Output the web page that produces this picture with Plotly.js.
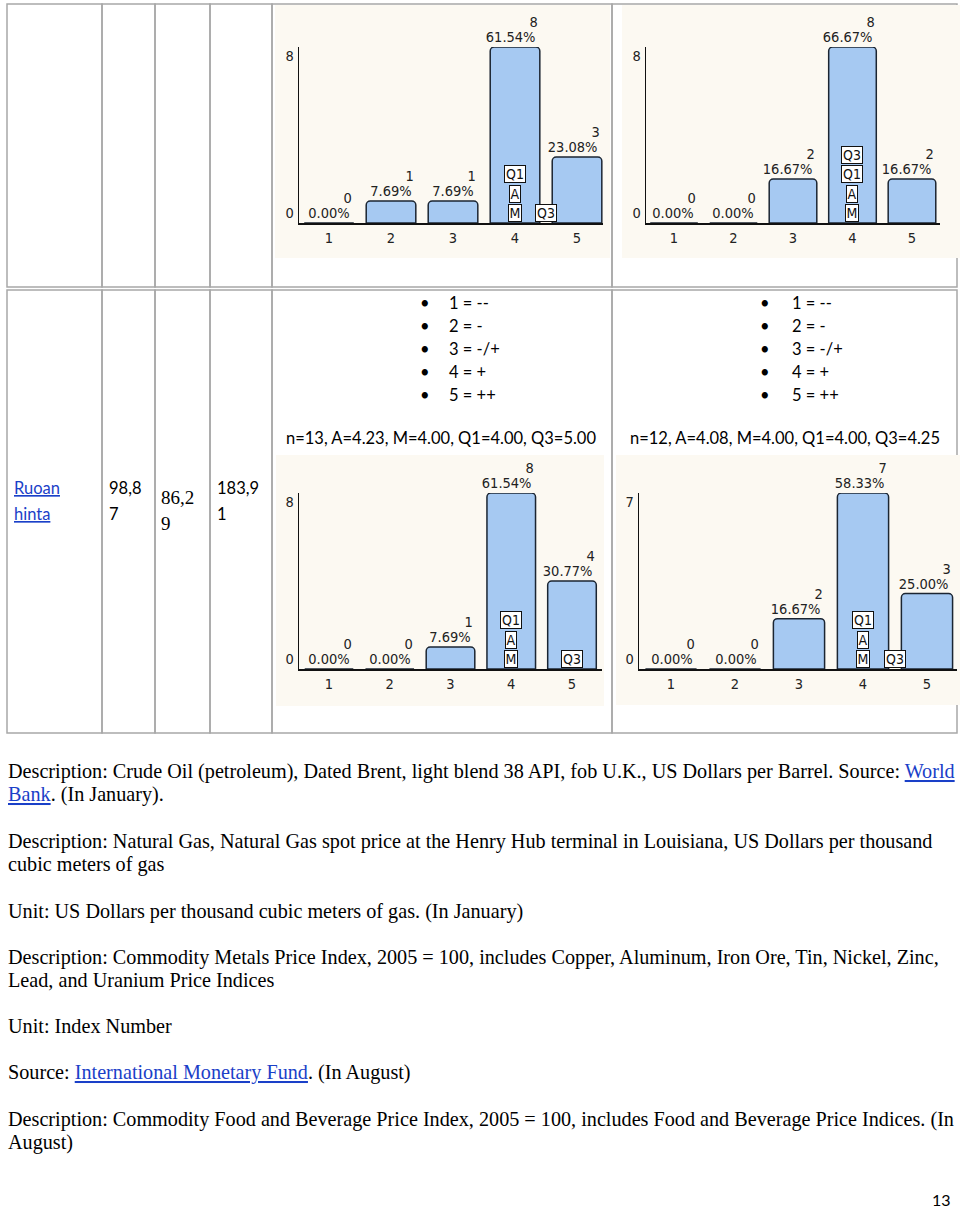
<!DOCTYPE html>
<html>
<head>
<meta charset="utf-8">
<script src="https://cdn.plot.ly/plotly-3.0.1.min.js"></script>
<style>
html,body{margin:0;padding:0;background:#fff;}
#chart{width:960px;height:1208px;}
#chart text[style*="DejaVu Sans"]{font-stretch:condensed;}
</style>
</head>
<body>
<div id="chart"></div>
<script>
// ---------------- DATA ----------------
const categories = [1, 2, 3, 4, 5];
const counts1 = [0, 1, 1, 8, 3];   // top-left
const counts2 = [0, 0, 2, 8, 2];   // top-right
const counts3 = [0, 0, 1, 8, 4];   // bottom-left
const counts4 = [0, 0, 2, 7, 3];   // bottom-right
const yTop = [8, 8, 8, 7];

const markerLabels = ['M', 'A', 'Q1', 'Q3'];
const markerX1 = [4, 4, 4, 4.5];  const markerLevel1 = [0, 1, 2, 0];
const markerX2 = [4, 4, 4, 4];    const markerLevel2 = [0, 1, 2, 3];
const markerX3 = [4, 4, 4, 5];    const markerLevel3 = [0, 1, 2, 0];
const markerX4 = [4, 4, 4, 4.5];  const markerLevel4 = [0, 1, 2, 0];

const scaleItems = ['1 = --', '2 = -', '3 = -/+', '4 = +', '5 = ++'];
const statsLeft = 'n=13, A=4.23, M=4.00, Q1=4.00, Q3=5.00';
const statsRight = 'n=12, A=4.08, M=4.00, Q1=4.00, Q3=4.25';

const rowName = ['Ruoan', 'hinta'];
const col1 = ['98,8', '7'];
const col2 = ['86,2', '9'];
const col3 = ['183,9', '1'];

const descLines = [
  'Description: Crude Oil (petroleum), Dated Brent, light blend 38 API, fob U.K., US Dollars per Barrel. Source: <span style="color:#1a40c8"><u>World</u></span>',
  '<span style="color:#1a40c8"><u>Bank</u></span>. (In January).',
  'Description: Natural Gas, Natural Gas spot price at the Henry Hub terminal in Louisiana, US Dollars per thousand',
  'cubic meters of gas',
  'Unit: US Dollars per thousand cubic meters of gas. (In January)',
  'Description: Commodity Metals Price Index, 2005 = 100, includes Copper, Aluminum, Iron Ore, Tin, Nickel, Zinc,',
  'Lead, and Uranium Price Indices',
  'Unit: Index Number',
  'Source: <span style="color:#1a40c8"><u>International Monetary Fund</u></span>. (In August)',
  'Description: Commodity Food and Beverage Price Index, 2005 = 100, includes Food and Beverage Price Indices. (In',
  'August)'
];
const pageNumber = '13';

// ---------------- LAYOUT HELPERS ----------------
const W = 960, H = 1208;
const px = x => x / W;
const py = y => 1 - y / H;
const NARROW = 'DejaVu Sans, sans-serif';
const CAL = 'Lato, Carlito, Calibri, sans-serif';
const SERIF = 'Liberation Serif, Times New Roman, serif';

const charts = [
  {counts: counts1, mx: markerX1, ml: markerLevel1, xd: [299, 603], yd: [47, 223], xr: [0.516, 5.419], n: 13},
  {counts: counts2, mx: markerX2, ml: markerLevel2, xd: [646, 940], yd: [47, 223], xr: [0.529, 5.471], n: 12},
  {counts: counts3, mx: markerX3, ml: markerLevel3, xd: [299, 602], yd: [493, 669], xr: [0.506, 5.494], n: 13},
  {counts: counts4, mx: markerX4, ml: markerLevel4, xd: [639, 957], yd: [493, 669], xr: [0.5, 5.469], n: 12}
];

const data = [];
const annotations = [];
const shapes = [];
const layout = {
  width: W, height: H,
  margin: {l: 0, r: 0, t: 0, b: 0},
  paper_bgcolor: '#ffffff',
  plot_bgcolor: 'rgba(0,0,0,0)',
  showlegend: false,
  font: {family: NARROW, size: 14, color: '#222'}
};

// table cells
const cellX = [7, 102, 155, 210, 272, 612, 957];
const rows = [[4, 287], [290, 733]];
rows.forEach(r => {
  for (let i = 0; i < cellX.length - 1; i++) {
    shapes.push({type: 'rect', xref: 'paper', yref: 'paper', layer: 'below',
      x0: px(cellX[i]), x1: px(cellX[i + 1]), y0: py(r[1]), y1: py(r[0]),
      line: {color: '#a8a8a8', width: 1.5}, fillcolor: 'rgba(0,0,0,0)'});
  }
});
// chart panels
const panels = [[275, 5, 610, 258], [622, 5, 960, 258], [276, 455, 604, 706], [616, 455, 960, 705]];
panels.forEach(p => shapes.push({type: 'rect', xref: 'paper', yref: 'paper', layer: 'below',
  x0: px(p[0]), x1: px(p[2]), y0: py(p[3]), y1: py(p[1]), line: {width: 0}, fillcolor: '#fcf9f2'}));

const fChart = {family: NARROW, size: 14.5, color: '#222'};

charts.forEach((c, k) => {
  const sfx = k === 0 ? '' : String(k + 1);
  const xa = 'x' + sfx, ya = 'y' + sfx;
  data.push({
    type: 'bar', x: categories, y: c.counts, xaxis: xa, yaxis: ya, width: 0.8,
    marker: {color: '#a6c9f2', cornerradius: 4, line: {color: '#1b2532', width: 1.5}},
    hoverinfo: 'skip'
  });
  layout['xaxis' + sfx] = {
    domain: [px(c.xd[0]), px(c.xd[1])], range: c.xr, anchor: ya,
    showline: true, linecolor: '#111', linewidth: 1.5, showgrid: false, zeroline: false,
    tickvals: categories, ticktext: categories.map(String), ticks: '', ticklabelstandoff: 1,
    tickfont: fChart, fixedrange: true
  };
  layout['yaxis' + sfx] = {
    domain: [py(c.yd[1]), py(c.yd[0])], range: [0, yTop[k]], anchor: xa,
    showline: true, linecolor: '#111', linewidth: 1.5, showgrid: false, zeroline: false,
    showticklabels: false, ticks: '', fixedrange: true
  };
  // y tick labels
  annotations.push({xref: xa + ' domain', yref: ya, x: 0, y: yTop[k], text: String(yTop[k]),
    xanchor: 'right', yanchor: 'top', xshift: -3, yshift: 1, showarrow: false, font: fChart});
  annotations.push({xref: xa + ' domain', yref: ya, x: 0, y: 0, text: '0',
    xanchor: 'right', yanchor: 'bottom', xshift: -3, yshift: 0, showarrow: false, font: fChart});
  // bar value labels: count (upper line) and percentage (lower line)
  categories.forEach((cat, i) => {
    const v = c.counts[i];
    annotations.push({xref: xa, yref: ya, x: cat + 0.41, y: v,
      text: (100 * v / c.n).toFixed(2) + '%',
      xanchor: 'right', yanchor: 'bottom', yshift: 0, showarrow: false, font: fChart});
    annotations.push({xref: xa, yref: ya, x: cat + 0.41, y: v,
      text: String(v),
      xanchor: 'right', yanchor: 'bottom', yshift: 15, showarrow: false, font: fChart});
  });
  // statistic markers
  markerLabels.forEach((lab, i) => {
    annotations.push({xref: xa, yref: ya, x: c.mx[i], y: 0, text: lab,
      xanchor: 'center', yanchor: 'bottom', yshift: c.ml[i] * 19.5 + 1, showarrow: false,
      bgcolor: '#ffffff', bordercolor: '#111', borderwidth: 1, borderpad: 0,
      font: {family: NARROW, size: 14, color: '#111'}});
  });
});

function txt(x, y, text, font, anchor) {
  annotations.push({xref: 'paper', yref: 'paper', x: px(x), y: py(y), text: text,
    xanchor: anchor || 'left', yanchor: 'middle', showarrow: false, align: anchor || 'left', font: font});
}

// bullets
const fBul = {family: CAL, size: 16.5, color: '#000'};
scaleItems.forEach((s, i) => {
  const y = 303 + i * 23;
  txt(425, y, '•', fBul, 'center');
  txt(447, y, s, fBul);
  txt(765, y, '•', fBul, 'center');
  txt(790, y, s, fBul);
});
txt(284, 438, statsLeft, fBul);
txt(628, 438, statsRight, fBul);

// table row
const fLink = {family: CAL, size: 16.5, color: '#1a40c8'};
const fCal = {family: CAL, size: 16.5, color: '#000'};
const fSer = {family: SERIF, size: 19, color: '#000'};
rowName.forEach((s, i) => txt(12, 488 + 26 * i, '<u>' + s + '</u>', fLink));
col1.forEach((s, i) => txt(107, 488 + 26 * i, s, fCal));
col2.forEach((s, i) => txt(159, 497 + 26 * i, s, fSer));
col3.forEach((s, i) => txt(215, 488 + 26 * i, s, fCal));

// description text
const descY = [771, 794, 841, 864, 911, 957, 980, 1026, 1072, 1119, 1142];
const fDesc = {family: SERIF, size: 20.2, color: '#000'};
descLines.forEach((s, i) => txt(6, descY[i], s, fDesc));

txt(953, 1199, pageNumber, {family: CAL, size: 16, color: '#000'}, 'right');

layout.annotations = annotations;
layout.shapes = shapes;

Plotly.newPlot('chart', data, layout, {staticPlot: true, displayModeBar: false});
</script>
</body>
</html>
